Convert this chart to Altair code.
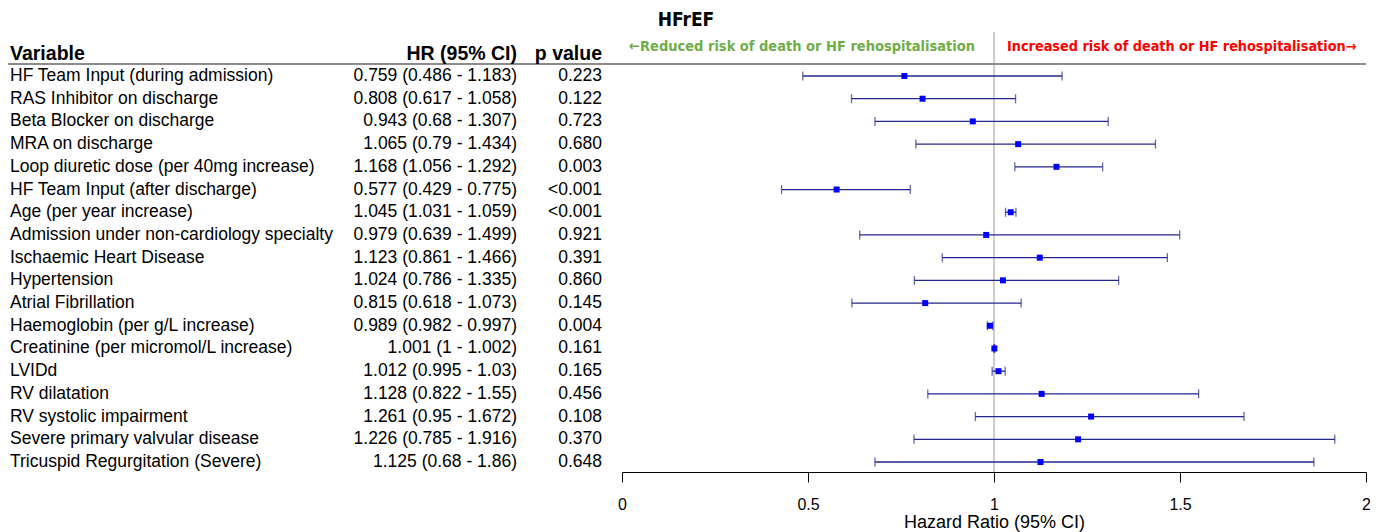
import altair as alt
import pandas as pd

variables = [
    "HF Team Input (during admission)",
    "RAS Inhibitor on discharge",
    "Beta Blocker on discharge",
    "MRA on discharge",
    "Loop diuretic dose (per 40mg increase)",
    "HF Team Input (after discharge)",
    "Age (per year increase)",
    "Admission under non-cardiology specialty",
    "Ischaemic Heart Disease",
    "Hypertension",
    "Atrial Fibrillation",
    "Haemoglobin (per g/L increase)",
    "Creatinine (per micromol/L increase)",
    "LVIDd",
    "RV dilatation",
    "RV systolic impairment",
    "Severe primary valvular disease",
    "Tricuspid Regurgitation (Severe)",
]
hr = ["0.759", "0.808", "0.943", "1.065", "1.168", "0.577", "1.045", "0.979", "1.123",
      "1.024", "0.815", "0.989", "1.001", "1.012", "1.128", "1.261", "1.226", "1.125"]
lower = ["0.486", "0.617", "0.68", "0.79", "1.056", "0.429", "1.031", "0.639", "0.861",
         "0.786", "0.618", "0.982", "1", "0.995", "0.822", "0.95", "0.785", "0.68"]
upper = ["1.183", "1.058", "1.307", "1.434", "1.292", "0.775", "1.059", "1.499", "1.466",
         "1.335", "1.073", "0.997", "1.002", "1.03", "1.55", "1.672", "1.916", "1.86"]
pvalues = ["0.223", "0.122", "0.723", "0.680", "0.003", "<0.001", "<0.001", "0.921", "0.391",
           "0.860", "0.145", "0.004", "0.161", "0.165", "0.456", "0.108", "0.370", "0.648"]
x_ticks = [0, 0.5, 1, 1.5, 2]

df = pd.DataFrame({
    "row": list(range(len(variables))),
    "variable": variables,
    "hr": [float(v) for v in hr],
    "lo": [float(v) for v in lower],
    "hi": [float(v) for v in upper],
    "hrtext": [f"{h} ({l} - {u})" for h, l, u in zip(hr, lower, upper)],
    "p": pvalues,
})

W, H = 1362, 464
xscale = alt.Scale(domain=[0, 2], range=[614, 1358], nice=False, zero=False)
yscale = alt.Scale(domain=[0, len(variables) - 1], range=[68, 454], nice=False, zero=False)
Y = alt.Y("row:Q", scale=yscale, axis=None)

base = alt.Chart(df)
FONT = "Liberation Sans"
NARROW = "'DejaVu Sans Condensed', 'Liberation Sans Narrow', 'Roboto', sans-serif"
NAVY = "#26268f"

ci = base.mark_rule(color=NAVY, strokeWidth=1.3).encode(
    x=alt.X("lo:Q", scale=xscale, axis=alt.Axis(
        values=x_ticks, format="~g", title="Hazard Ratio (95% CI)", grid=False,
        domainColor="#000000", tickColor="#000000", tickSize=10, domainWidth=1,
        labelFont=FONT, labelFontSize=16, labelColor="#000000", labelPadding=14,
        titleFont=FONT, titleFontSize=18, titleFontWeight="normal", titleColor="#000000",
        titlePadding=1, labelFlush=False)),
    x2="hi:Q", y=Y)
cap_lo = base.mark_tick(color=NAVY, orient="vertical", size=9, thickness=1.3).encode(
    x=alt.X("lo:Q", scale=xscale), y=Y)
cap_hi = base.mark_tick(color=NAVY, orient="vertical", size=9, thickness=1.3).encode(
    x=alt.X("hi:Q", scale=xscale), y=Y)
pts = base.mark_square(color="#0000ff", size=36, opacity=1).encode(
    x=alt.X("hr:Q", scale=xscale), y=Y)

ref = alt.Chart(pd.DataFrame({"x": [1]})).mark_rule(color="#bdbdbd", strokeWidth=1.5).encode(
    x=alt.X("x:Q", scale=xscale), y=alt.value(24), y2=alt.value(H))

header_line = alt.Chart(pd.DataFrame({"a": [0]})).mark_rule(color="#8c8c8c", strokeWidth=2).encode(
    x=alt.value(0), x2=alt.value(1358), y=alt.value(56))

txt = dict(baseline="middle", font=FONT, fontSize=17.5, color="#000000")
col_var = base.mark_text(align="left", **txt).encode(x=alt.value(2), y=Y, text="variable:N")
col_hr = base.mark_text(align="right", **txt).encode(x=alt.value(509), y=Y, text="hrtext:N")
col_p = base.mark_text(align="right", **txt).encode(x=alt.value(594), y=Y, text="p:N")

hdr = dict(baseline="middle", font=FONT, fontSize=19.5, fontWeight="bold", color="#000000")
h1 = alt.Chart(pd.DataFrame({"t": ["Variable"]})).mark_text(align="left", **hdr).encode(
    x=alt.value(2), y=alt.value(46), text="t:N")
h2 = alt.Chart(pd.DataFrame({"t": ["HR (95% CI)"]})).mark_text(align="right", **hdr).encode(
    x=alt.value(509), y=alt.value(46), text="t:N")
h3 = alt.Chart(pd.DataFrame({"t": ["p value"]})).mark_text(align="right", **hdr).encode(
    x=alt.value(594), y=alt.value(46), text="t:N")

title = alt.Chart(pd.DataFrame({"t": ["HFrEF"]})).mark_text(
    align="center", baseline="middle", font=NARROW, fontSize=19, fontWeight="bold", color="#000000").encode(
    x=alt.value(678), y=alt.value(12), text="t:N")
left_note = alt.Chart(pd.DataFrame({"t": ["\u2190Reduced risk of death or HF rehospitalisation"]})).mark_text(
    align="right", baseline="middle", font=NARROW, fontSize=14.5, fontWeight="bold", color="#70ad47").encode(
    x=alt.value(967), y=alt.value(39), text="t:N")
right_note = alt.Chart(pd.DataFrame({"t": ["Increased risk of death or HF rehospitalisation\u2192"]})).mark_text(
    align="left", baseline="middle", font=NARROW, fontSize=14.3, fontWeight="bold", color="#ff0000").encode(
    x=alt.value(999), y=alt.value(39), text="t:N")

chart = alt.layer(
    ref, header_line, ci, cap_lo, cap_hi, pts,
    col_var, col_hr, col_p, h1, h2, h3, title, left_note, right_note,
).properties(
    width=W, height=H,
    autosize=alt.AutoSizeParams(type="none"),
    padding={"left": 0, "right": 0, "top": 0, "bottom": 60},
).configure(background="#ffffff").configure_view(stroke=None, strokeWidth=0)

chart.save("out.html", embed_options={"renderer": "svg", "actions": False})
